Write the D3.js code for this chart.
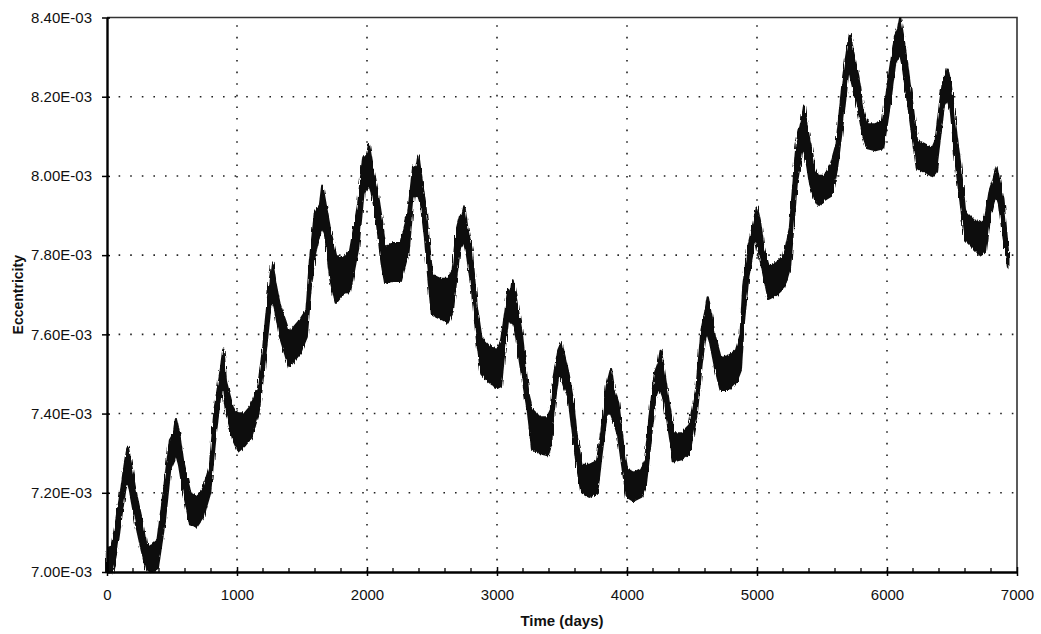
<!DOCTYPE html>
<html>
<head>
<meta charset="utf-8">
<script src="https://cdn.jsdelivr.net/npm/d3@7"></script>
<style>
  body { margin: 0; background: #fff; }
  svg { display: block; }
  text { font-family: "Liberation Sans", Arial, sans-serif; fill: #111; }
</style>
</head>
<body>
<div id="container"></div>
<script>
// eccentricity values are in units of 1E-03
// the orbit wobbles fast, so the trace is kept as an upper / lower envelope
const timeDays = [0, 40, 75, 113, 135, 159, 185, 228, 267, 300, 340, 390, 445, 485, 515, 531, 555, 587, 640, 690, 740, 792, 831, 875, 895, 915, 972, 1010, 1060, 1110, 1164, 1203, 1250, 1272, 1295, 1331, 1369, 1400, 1485, 1536, 1562, 1600, 1640, 1656, 1680, 1718, 1760, 1810, 1870, 1933, 1972, 2000, 2015, 2035, 2074, 2113, 2140, 2200, 2260, 2318, 2356, 2380, 2395, 2415, 2446, 2472, 2500, 2560, 2620, 2660, 2690, 2715, 2735, 2749, 2770, 2805, 2844, 2880, 2940, 3000, 3030, 3049, 3087, 3105, 3120, 3140, 3190, 3241, 3270, 3330, 3390, 3415, 3433, 3472, 3497, 3515, 3549, 3587, 3613, 3650, 3710, 3770, 3805, 3844, 3877, 3900, 3933, 3972, 4000, 4050, 4110, 4140, 4177, 4215, 4245, 4259, 4280, 4318, 4360, 4420, 4480, 4536, 4574, 4605, 4621, 4640, 4677, 4720, 4780, 4840, 4875, 4895, 4933, 4980, 4998, 5020, 5049, 5090, 5150, 5210, 5254, 5305, 5345, 5362, 5380, 5408, 5446, 5470, 5520, 5570, 5613, 5664, 5700, 5715, 5735, 5779, 5818, 5850, 5910, 5970, 6023, 6062, 6085, 6100, 6120, 6151, 6190, 6230, 6290, 6350, 6375, 6408, 6438, 6455, 6467, 6490, 6536, 6574, 6600, 6660, 6720, 6760, 6792, 6818, 6843, 6862, 6895, 6933];

const eccUpper = [7.05, 7.07, 7.136, 7.215, 7.27, 7.316, 7.27, 7.19, 7.131, 7.07, 7.065, 7.08, 7.225, 7.333, 7.35, 7.386, 7.35, 7.275, 7.20, 7.19, 7.21, 7.266, 7.417, 7.51, 7.561, 7.48, 7.409, 7.40, 7.40, 7.42, 7.468, 7.569, 7.73, 7.781, 7.73, 7.67, 7.636, 7.603, 7.636, 7.662, 7.788, 7.906, 7.93, 7.975, 7.93, 7.86, 7.80, 7.79, 7.81, 7.93, 8.049, 8.05, 8.078, 8.04, 7.973, 7.889, 7.82, 7.83, 7.83, 7.906, 8.023, 8.02, 8.051, 8.00, 7.93, 7.847, 7.75, 7.74, 7.74, 7.76, 7.864, 7.897, 7.90, 7.921, 7.87, 7.813, 7.67, 7.59, 7.57, 7.56, 7.58, 7.62, 7.712, 7.70, 7.736, 7.70, 7.603, 7.45, 7.41, 7.39, 7.39, 7.41, 7.485, 7.56, 7.579, 7.55, 7.502, 7.426, 7.342, 7.27, 7.27, 7.28, 7.359, 7.468, 7.512, 7.46, 7.426, 7.316, 7.26, 7.25, 7.26, 7.28, 7.40, 7.502, 7.53, 7.558, 7.52, 7.434, 7.35, 7.35, 7.37, 7.468, 7.611, 7.66, 7.693, 7.66, 7.594, 7.54, 7.545, 7.56, 7.60, 7.72, 7.821, 7.89, 7.92, 7.89, 7.821, 7.77, 7.78, 7.80, 7.87, 8.082, 8.14, 8.175, 8.13, 8.082, 8.015, 8.00, 8.00, 8.03, 8.082, 8.251, 8.33, 8.358, 8.32, 8.251, 8.167, 8.13, 8.13, 8.14, 8.268, 8.353, 8.37, 8.398, 8.36, 8.293, 8.192, 8.09, 8.08, 8.07, 8.09, 8.184, 8.25, 8.25, 8.268, 8.23, 8.10, 7.998, 7.91, 7.89, 7.88, 7.90, 7.965, 7.99, 8.022, 7.99, 7.939, 7.796];

const eccLower = [7.00, 7.00, 7.056, 7.149, 7.20, 7.237, 7.19, 7.114, 7.056, 7.01, 7.00, 7.01, 7.131, 7.258, 7.28, 7.30, 7.27, 7.207, 7.12, 7.115, 7.14, 7.199, 7.333, 7.46, 7.46, 7.41, 7.333, 7.305, 7.32, 7.34, 7.40, 7.502, 7.65, 7.69, 7.66, 7.594, 7.553, 7.518, 7.553, 7.594, 7.704, 7.805, 7.86, 7.87, 7.85, 7.74, 7.68, 7.70, 7.71, 7.82, 7.956, 7.97, 7.98, 7.96, 7.889, 7.78, 7.73, 7.735, 7.735, 7.805, 7.948, 7.95, 7.95, 7.93, 7.847, 7.746, 7.65, 7.64, 7.63, 7.66, 7.755, 7.82, 7.83, 7.83, 7.80, 7.72, 7.594, 7.50, 7.48, 7.465, 7.47, 7.535, 7.645, 7.63, 7.63, 7.61, 7.502, 7.40, 7.31, 7.30, 7.295, 7.32, 7.40, 7.502, 7.49, 7.47, 7.443, 7.342, 7.274, 7.20, 7.19, 7.20, 7.30, 7.40, 7.40, 7.38, 7.342, 7.249, 7.19, 7.18, 7.19, 7.21, 7.316, 7.434, 7.46, 7.46, 7.44, 7.367, 7.28, 7.285, 7.30, 7.40, 7.527, 7.60, 7.60, 7.58, 7.518, 7.46, 7.46, 7.48, 7.51, 7.62, 7.746, 7.83, 7.84, 7.80, 7.754, 7.69, 7.70, 7.72, 7.77, 7.981, 8.06, 8.07, 8.04, 7.981, 7.94, 7.925, 7.94, 7.95, 8.015, 8.15, 8.26, 8.26, 8.23, 8.167, 8.10, 8.07, 8.065, 8.07, 8.184, 8.285, 8.30, 8.31, 8.28, 8.209, 8.116, 8.02, 8.01, 8.00, 8.01, 8.10, 8.18, 8.19, 8.19, 8.17, 8.015, 7.914, 7.84, 7.82, 7.80, 7.81, 7.897, 7.93, 7.95, 7.93, 7.847, 7.767];

const xTickValues = [0, 1000, 2000, 3000, 4000, 5000, 6000, 7000];
const yTickValues = [7.00, 7.20, 7.40, 7.60, 7.80, 8.00, 8.20, 8.40];

const W = 1041, H = 634;
const plotLeft = 107, plotRight = 1017, plotTop = 17.5, plotBottom = 572;

const svg = d3.select("div#container")
  .append("svg")
  .attr("width", W)
  .attr("height", H);

svg.append("rect").attr("width", W).attr("height", H).attr("fill", "#fff");

// jagged edge for the fast wobble in the trace
const defs = svg.append("defs");
const rough = defs.append("filter").attr("id", "rough")
  .attr("x", "-2%").attr("y", "-5%").attr("width", "104%").attr("height", "110%");
rough.append("feTurbulence")
  .attr("type", "fractalNoise")
  .attr("baseFrequency", "0.9 0.08")
  .attr("numOctaves", 2)
  .attr("seed", 4)
  .attr("result", "noise");
rough.append("feDisplacementMap")
  .attr("in", "SourceGraphic")
  .attr("in2", "noise")
  .attr("scale", 4)
  .attr("xChannelSelector", "R")
  .attr("yChannelSelector", "G");

const x = d3.scaleLinear().domain([0, 7000]).range([plotLeft, plotRight]);
const y = d3.scaleLinear().domain([7.0, 8.4]).range([plotBottom, plotTop]);

// dotted grid
const grid = svg.append("g")
  .attr("stroke", "#222")
  .attr("stroke-width", 1.6)
  .attr("stroke-dasharray", "1.6 10");

grid.selectAll("line.v")
  .data(xTickValues.filter(d => d > 0 && d < 7000))
  .enter().append("line")
  .attr("class", "v")
  .attr("x1", d => x(d)).attr("x2", d => x(d))
  .attr("y1", plotBottom).attr("y2", plotTop);

grid.selectAll("line.h")
  .data(yTickValues.filter(d => d > 7.0 && d < 8.4))
  .enter().append("line")
  .attr("class", "h")
  .attr("y1", d => y(d)).attr("y2", d => y(d))
  .attr("x1", plotLeft).attr("x2", plotRight);

// frame on top and right
svg.append("path")
  .attr("d", `M${plotLeft},${plotTop}H${plotRight}V${plotBottom}`)
  .attr("fill", "none")
  .attr("stroke", "#333")
  .attr("stroke-width", 1.6);

// the trace
const pts = timeDays.map((t, i) => ({ t: t, hi: eccUpper[i], lo: eccLower[i] }));

const band = d3.area()
  .x(d => x(d.t))
  .y0(d => y(d.lo))
  .y1(d => y(d.hi));

svg.append("path")
  .datum(pts)
  .attr("d", band)
  .attr("fill", "#111")
  .attr("stroke", "#111")
  .attr("stroke-width", 2.4)
  .attr("stroke-linejoin", "round")
  .attr("filter", "url(#rough)");

// axes
const fmt = d => d.toFixed(2) + "E-03";

const yAxis = svg.append("g")
  .attr("transform", `translate(${plotLeft},0)`)
  .call(d3.axisLeft(y).tickValues(yTickValues).tickFormat(fmt)
    .tickSizeInner(5).tickSizeOuter(0).tickPadding(10));

yAxis.selectAll(".tick line").attr("x2", -5).attr("x1", 3).attr("stroke-width", 1.5);
yAxis.select(".domain").attr("stroke-width", 2.4);
yAxis.selectAll("text").attr("font-size", 15).attr("fill", "#111")
  .attr("font-family", "Liberation Sans, Arial, sans-serif");

const xAxis = svg.append("g")
  .attr("transform", `translate(0,${plotBottom})`)
  .call(d3.axisBottom(x).tickValues(xTickValues).tickFormat(d3.format("d"))
    .tickSizeInner(5).tickSizeOuter(0).tickPadding(12));

xAxis.selectAll(".tick line").attr("y1", -5).attr("y2", 4).attr("stroke-width", 1.5);
xAxis.select(".domain").attr("stroke-width", 2.4);
xAxis.selectAll("text").attr("font-size", 15).attr("fill", "#111")
  .attr("font-family", "Liberation Sans, Arial, sans-serif");

// minor ticks every 200 days, pointing up
xAxis.selectAll("line.minor")
  .data(x.ticks(35).filter(d => d % 1000 !== 0))
  .enter().append("line")
  .attr("class", "minor")
  .attr("x1", d => x(d)).attr("x2", d => x(d))
  .attr("y1", 0).attr("y2", -4)
  .attr("stroke", "#000")
  .attr("stroke-width", 1.3);

// axis titles
svg.append("text")
  .attr("x", (plotLeft + plotRight) / 2)
  .attr("y", 626)
  .attr("text-anchor", "middle")
  .attr("font-size", 15)
  .attr("font-weight", "bold")
  .text("Time (days)");

svg.append("text")
  .attr("transform", `translate(23,${(plotTop + plotBottom) / 2}) rotate(-90)`)
  .attr("text-anchor", "middle")
  .attr("font-size", 14)
  .attr("font-weight", "bold")
  .text("Eccentricity");
</script>
</body>
</html>
